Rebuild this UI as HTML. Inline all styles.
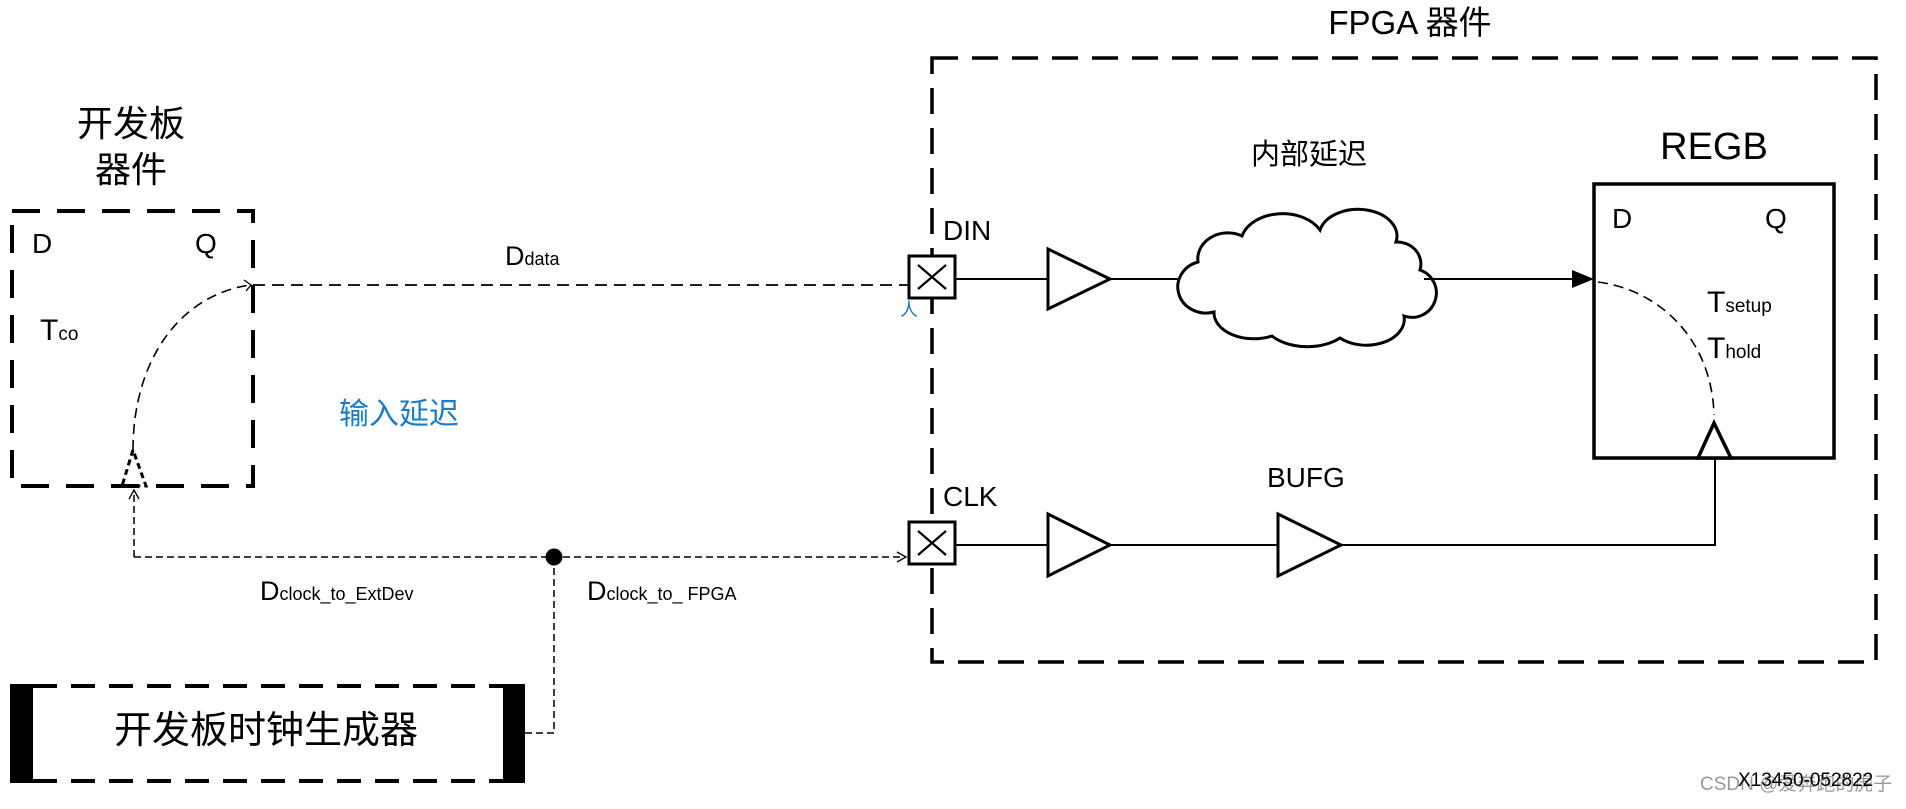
<!DOCTYPE html>
<html><head><meta charset="utf-8"><style>
html,body{margin:0;padding:0;background:#fff;}
svg{display:block;}
text{font-family:"Liberation Sans","Noto Sans CJK SC",sans-serif;fill:#000;}
</style></head><body>
<svg width="1906" height="809" viewBox="0 0 1906 809" xmlns="http://www.w3.org/2000/svg">
<defs>
<marker id="op" markerWidth="12" markerHeight="12" refX="10" refY="6" orient="auto" markerUnits="userSpaceOnUse">
<path d="M1,1 L10,6 L1,11" fill="none" stroke="#000" stroke-width="1.3"/></marker>
</defs>
<text x="131" y="136" font-size="36" text-anchor="middle">开发板</text>
<text x="131" y="182" font-size="36" text-anchor="middle">器件</text>
<text x="1410" y="34" font-size="33" text-anchor="middle">FPGA 器件</text>
<text x="1309" y="164" font-size="29" text-anchor="middle">内部延迟</text>
<text x="1714" y="159" font-size="38" text-anchor="middle">REGB</text>

<rect x="12" y="211" width="241" height="275" fill="none" stroke="#000" stroke-width="4" stroke-dasharray="28,17"/>
<text x="32" y="253" font-size="28">D</text>
<text x="195" y="253" font-size="28">Q</text>
<text x="40" y="340" font-size="30">T<tspan font-size="19">co</tspan></text>
<path d="M133,450 C133,360 180,295 250,285" fill="none" stroke="#000" stroke-width="1.6" stroke-dasharray="10,6"/>
<path d="M244,280 L251,285 L246,291" fill="none" stroke="#000" stroke-width="1.3"/>
<path d="M133,450 L122,486 L146,486 Z" fill="none" stroke="#000" stroke-width="3" stroke-dasharray="6,4"/>

<line x1="253" y1="285" x2="908" y2="285" stroke="#000" stroke-width="1.8" stroke-dasharray="12,7"/>
<text x="505" y="265" font-size="27">D<tspan font-size="18">data</tspan></text>
<text x="900" y="316" font-size="18" style="fill:#1a73c2">人</text>
<text x="339" y="424" font-size="30" style="fill:#1a7bc6">输入延迟</text>

<line x1="134" y1="557" x2="134" y2="490" stroke="#000" stroke-width="1.5" stroke-dasharray="7,4" marker-end="url(#op)"/>
<line x1="134" y1="557" x2="906" y2="557" stroke="#000" stroke-width="1.5" stroke-dasharray="7,4" marker-end="url(#op)"/>
<circle cx="554" cy="557" r="8.5" fill="#000"/>
<polyline points="554,557 554,733 525,733" fill="none" stroke="#000" stroke-width="1.5" stroke-dasharray="7,4"/>
<text x="260" y="600" font-size="27">D<tspan font-size="18">clock_to_ExtDev</tspan></text>
<text x="587" y="600" font-size="27">D<tspan font-size="18">clock_to_ FPGA</tspan></text>

<rect x="10" y="684" width="23" height="99" fill="#000"/>
<rect x="503" y="684" width="22" height="99" fill="#000"/>
<line x1="33" y1="686" x2="503" y2="686" stroke="#000" stroke-width="4" stroke-dasharray="24,14"/>
<line x1="33" y1="781" x2="503" y2="781" stroke="#000" stroke-width="4" stroke-dasharray="24,14"/>
<text x="266" y="743" font-size="38" text-anchor="middle">开发板时钟生成器</text>

<rect x="932" y="58" width="944" height="604" fill="none" stroke="#000" stroke-width="3.5" stroke-dasharray="26,14"/>

<text x="943" y="240" font-size="28">DIN</text>
<rect x="909" y="256" width="46" height="42" fill="#fff" stroke="#000" stroke-width="3"/>
<path d="M918,265 L946,289 M946,265 L918,289" stroke="#000" stroke-width="2.2"/>
<line x1="955" y1="279" x2="1048" y2="279" stroke="#000" stroke-width="2"/>
<polygon points="1048,249 1110,279 1048,309" fill="#fff" stroke="#000" stroke-width="3"/>
<line x1="1110" y1="279" x2="1195" y2="279" stroke="#000" stroke-width="2"/>
<path d="M1198,262 A30,26 0 0 1 1242,236 A42,30 0 0 1 1320,230 A38,26 0 0 1 1396,242 A24,22 0 0 1 1420,270 A24,24 0 0 1 1404,316 A38,26 0 0 1 1340,338 A45,28 0 0 1 1272,336 A40,26 0 0 1 1214,312 A26,24 0 0 1 1198,262 Z" fill="#fff" stroke="#000" stroke-width="3"/>
<line x1="1424" y1="279" x2="1575" y2="279" stroke="#000" stroke-width="2"/>
<polygon points="1572,270 1594,279 1572,288" fill="#000"/>

<rect x="1594" y="184" width="240" height="274" fill="none" stroke="#000" stroke-width="3.5"/>
<text x="1612" y="228" font-size="28">D</text>
<text x="1765" y="228" font-size="28">Q</text>
<text x="1707" y="312" font-size="30">T<tspan font-size="19">setup</tspan></text>
<text x="1707" y="358" font-size="30">T<tspan font-size="19">hold</tspan></text>
<path d="M1598,282 C1660,290 1712,340 1714,415" fill="none" stroke="#000" stroke-width="1.6" stroke-dasharray="10,6"/>
<polygon points="1714,423 1698,458 1731,458" fill="#fff" stroke="#000" stroke-width="3.5"/>

<text x="943" y="506" font-size="28">CLK</text>
<rect x="909" y="522" width="46" height="42" fill="#fff" stroke="#000" stroke-width="3"/>
<path d="M918,531 L946,555 M946,531 L918,555" stroke="#000" stroke-width="2.2"/>
<line x1="955" y1="545" x2="1048" y2="545" stroke="#000" stroke-width="2"/>
<polygon points="1048,514 1110,545 1048,576" fill="#fff" stroke="#000" stroke-width="3"/>
<line x1="1110" y1="545" x2="1278" y2="545" stroke="#000" stroke-width="2"/>
<text x="1267" y="487" font-size="28">BUFG</text>
<polygon points="1278,514 1341,545 1278,576" fill="#fff" stroke="#000" stroke-width="3"/>
<polyline points="1341,545 1715,545 1715,458" fill="none" stroke="#000" stroke-width="2"/>

<text x="1700" y="790" font-size="19" style="fill:#999">CSDN @爱奔跑的虎子</text>
<text x="1738" y="786" font-size="19">X13450-052822</text>
</svg>
</body></html>
